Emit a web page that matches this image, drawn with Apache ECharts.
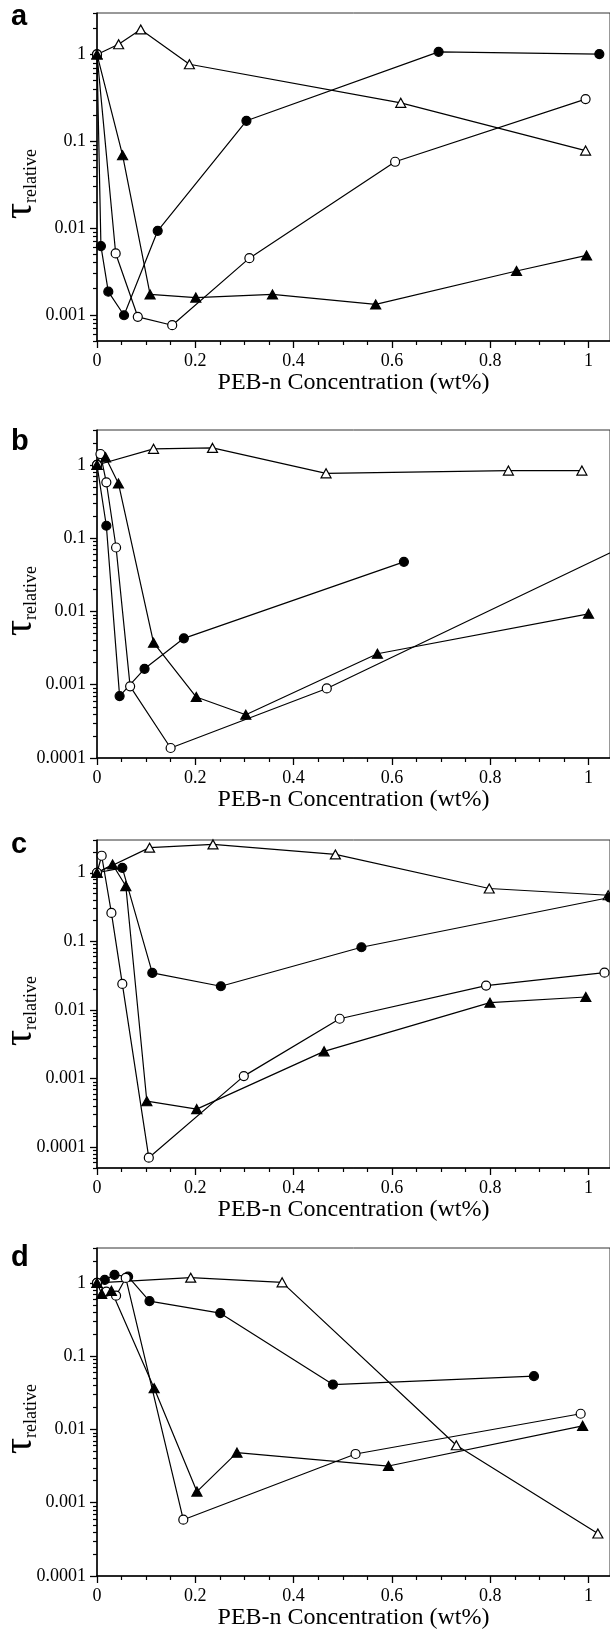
<!DOCTYPE html>
<html>
<head>
<meta charset="utf-8">
<script src="https://cdn.jsdelivr.net/npm/echarts@6/dist/echarts.min.js"></script>
<style>
  html, body { margin: 0; padding: 0; background: #fff; }
  #main { width: 610px; height: 1629px; }
</style>
</head>
<body>
<div id="main"></div>
<script>
// axis ticks
const xMajor = [0, 0.2, 0.4, 0.6, 0.8, 1];
const xMinor = [0.05, 0.1, 0.15, 0.25, 0.3, 0.35, 0.45, 0.5, 0.55, 0.65, 0.7, 0.75, 0.85, 0.9, 0.95];
const yMajor = [0.0001, 0.001, 0.01, 0.1, 1];
const xMax = 1.0437;
const panelNames = ['a', 'b', 'c', 'd'];
const yMin = [0.0005, 0.0001, 0.00005, 0.0001];
const yMax = [3, 3, 3, 3];

// panel a
const aOpenTri = [[0, 1], [0.044, 1.31], [0.089, 1.94], [0.188, 0.77], [0.618, 0.277], [0.994, 0.078]];
const aFilledCirc = [[0, 1], [0.008, 0.0062], [0.023, 0.00185], [0.055, 0.00099], [0.1235, 0.0093], [0.304, 0.172], [0.695, 1.07], [1.022, 1.01]];
const aOpenCirc = [[0, 1], [0.038, 0.0051], [0.083, 0.00095], [0.153, 0.00076], [0.31, 0.0045], [0.6065, 0.058], [0.994, 0.306]];
const aFilledTri = [[0, 1], [0.052, 0.069], [0.108, 0.00172], [0.201, 0.00158], [0.357, 0.00172], [0.567, 0.00132], [0.8535, 0.0032], [0.996, 0.00484]];

// panel b
const bOpenTri = [[0, 1], [0.115, 1.66], [0.235, 1.71], [0.466, 0.769], [0.837, 0.837], [0.9865, 0.837]];
const bFilledCirc = [[0, 1], [0.019, 0.148], [0.046, 0.0007], [0.0967, 0.00165], [0.1767, 0.0043], [0.6244, 0.0476]];
const bOpenCirc = [[0, 1], [0.007, 1.41], [0.019, 0.58], [0.0388, 0.0747], [0.0674, 0.00095], [0.1498, 0.000137], [0.4675, 0.00089], [1.2, 0.2]];
const bFilledTri = [[0, 1], [0.0174, 1.27], [0.0436, 0.56], [0.115, 0.00375], [0.202, 0.00068], [0.3027, 0.00039], [0.5705, 0.00265], [1.0, 0.0093]];

// panel c
const cOpenTri = [[0, 1], [0.107, 2.32], [0.236, 2.59], [0.485, 1.85], [0.798, 0.59], [1.04, 0.47]];
const cFilledCirc = [[0, 1], [0.0515, 1.18], [0.1125, 0.0347], [0.252, 0.0222], [0.538, 0.0822], [1.043, 0.436]];
const cOpenCirc = [[0, 1], [0.0095, 1.77], [0.0293, 0.26], [0.0515, 0.024], [0.1054, 0.0000706], [0.2987, 0.00109], [0.4937, 0.00747], [0.7916, 0.0227], [1.0325, 0.035]];
const cFilledTri = [[0, 1], [0.0317, 1.32], [0.0586, 0.64], [0.1014, 0.00047], [0.2029, 0.00036], [0.462, 0.0025], [0.7995, 0.0128], [0.9945, 0.0155]];

// panel d
const dOpenTri = [[0, 1], [0.1907, 1.18], [0.3766, 1.02], [0.731, 0.0061], [1.019, 0.00038]];
const dFilledCirc = [[0, 1], [0.0158, 1.1], [0.0356, 1.29], [0.0633, 1.22], [0.1068, 0.566], [0.2508, 0.387], [0.48, 0.041], [0.889, 0.0534]];
const dOpenCirc = [[0, 1], [0.019, 0.76], [0.0388, 0.67], [0.0585, 1.17], [0.1756, 0.000587], [0.526, 0.00463], [0.984, 0.0164]];
const dFilledTri = [[0, 1], [0.0095, 0.71], [0.0293, 0.78], [0.1163, 0.0366], [0.2033, 0.00142], [0.2848, 0.00483], [0.593, 0.00317], [0.988, 0.0112]];

const panelData = [
  [aOpenTri, aFilledCirc, aOpenCirc, aFilledTri],
  [bOpenTri, bFilledCirc, bOpenCirc, bFilledTri],
  [cOpenTri, cFilledCirc, cOpenCirc, cFilledTri],
  [dOpenTri, dFilledCirc, dOpenCirc, dFilledTri]
];

// layout
const panelTop = [13, 430, 840, 1248];
const panelHeight = 328;
const letterTop = [2, 427, 830, 1243];
const serif = 'Liberation Serif';

const markStyle = [
  { symbol: 'triangle', size: [10, 9], fill: '#fff' },
  { symbol: 'circle', size: 9, fill: '#000' },
  { symbol: 'circle', size: 9, fill: '#fff' },
  { symbol: 'triangle', size: [10, 9], fill: '#000' }
];

// log-spaced minor ticks 2..9 x 10^k
const yMinor = [];
for (let k = -5; k <= 0; k++) {
  for (let m = 2; m <= 9; m++) {
    yMinor.push(Number((m * Math.pow(10, k)).toPrecision(3)));
  }
}

const chart = echarts.init(document.getElementById('main'));

const grids = [], xAxes = [], yAxes = [], series = [], graphics = [];

panelTop.forEach((top, i) => {
  grids.push({
    left: 97, width: 513, top: top, height: panelHeight,
    outerBoundsMode: 'none',
    show: true, borderColor: '#333', borderWidth: 1, backgroundColor: 'transparent'
  });
  // main x axis
  xAxes.push({
    type: 'value', gridIndex: i, position: 'bottom', min: 0, max: xMax,
    name: 'PEB-n Concentration (wt%)', nameLocation: 'middle', nameGap: 30, nameMoveOverlap: false,
    nameTextStyle: { fontFamily: serif, fontSize: 24, color: '#000' },
    axisLine: { show: true, lineStyle: { color: '#000', width: 1.5 } },
    axisTick: { show: true, customValues: xMajor, length: 7, lineStyle: { color: '#000', width: 1.3 } },
    axisLabel: { customValues: xMajor, margin: 11, fontFamily: serif, fontSize: 18, color: '#000',
      formatter: v => String(v) },
    splitLine: { show: false }
  });
  // minor x ticks
  xAxes.push({
    type: 'value', gridIndex: i, position: 'bottom', min: 0, max: xMax,
    axisLine: { show: false },
    axisTick: { show: true, customValues: xMinor, length: 4, lineStyle: { color: '#000', width: 1.2 } },
    axisLabel: { show: false },
    splitLine: { show: false }
  });
  // main y axis
  yAxes.push({
    type: 'log', logBase: 10, gridIndex: i, position: 'left', min: yMin[i], max: yMax[i],
    name: '{t|τ}{r|relative}', nameLocation: 'middle', nameGap: 57, nameRotate: 90, nameMoveOverlap: false,
    nameTextStyle: {
      color: '#000', padding: [0, 14, 0, 0],
      rich: {
        t: { fontFamily: serif, fontSize: 40, color: '#000', verticalAlign: 'bottom', lineHeight: 40 },
        r: { fontFamily: serif, fontSize: 18, color: '#000', verticalAlign: 'bottom', lineHeight: 18, padding: [16, 0, 0, 0] }
      }
    },
    axisLine: { show: true, lineStyle: { color: '#000', width: 1.5 } },
    axisTick: { show: true, customValues: yMajor, length: 7, lineStyle: { color: '#000', width: 1.3 } },
    axisLabel: { customValues: yMajor, margin: 11, fontFamily: serif, fontSize: 18, color: '#000',
      formatter: v => String(v) },
    splitLine: { show: false }
  });
  // minor y ticks
  yAxes.push({
    type: 'log', logBase: 10, gridIndex: i, position: 'left', min: yMin[i], max: yMax[i],
    axisLine: { show: false },
    axisTick: { show: true, customValues: yMinor, length: 4, lineStyle: { color: '#000', width: 1.2 } },
    axisLabel: { show: false },
    splitLine: { show: false }
  });

  panelData[i].forEach((pts, s) => {
    const st = markStyle[s];
    series.push({
      type: 'line', xAxisIndex: 2 * i, yAxisIndex: 2 * i,
      data: pts,
      symbol: st.symbol, symbolSize: st.size, showSymbol: true,
      lineStyle: { color: '#000', width: 1.2 },
      itemStyle: { color: st.fill, borderColor: '#000', borderWidth: 1.2 },
      emphasis: { disabled: true },
      clip: true
    });
  });

  graphics.push({
    type: 'text', left: 11, top: letterTop[i],
    style: { text: panelNames[i], font: 'bold 29px "Liberation Sans"', fill: '#000' }
  });
});

chart.setOption({
  animation: false,
  backgroundColor: '#fff',
  grid: grids,
  xAxis: xAxes,
  yAxis: yAxes,
  series: series,
  graphic: graphics
});
</script>
</body>
</html>
